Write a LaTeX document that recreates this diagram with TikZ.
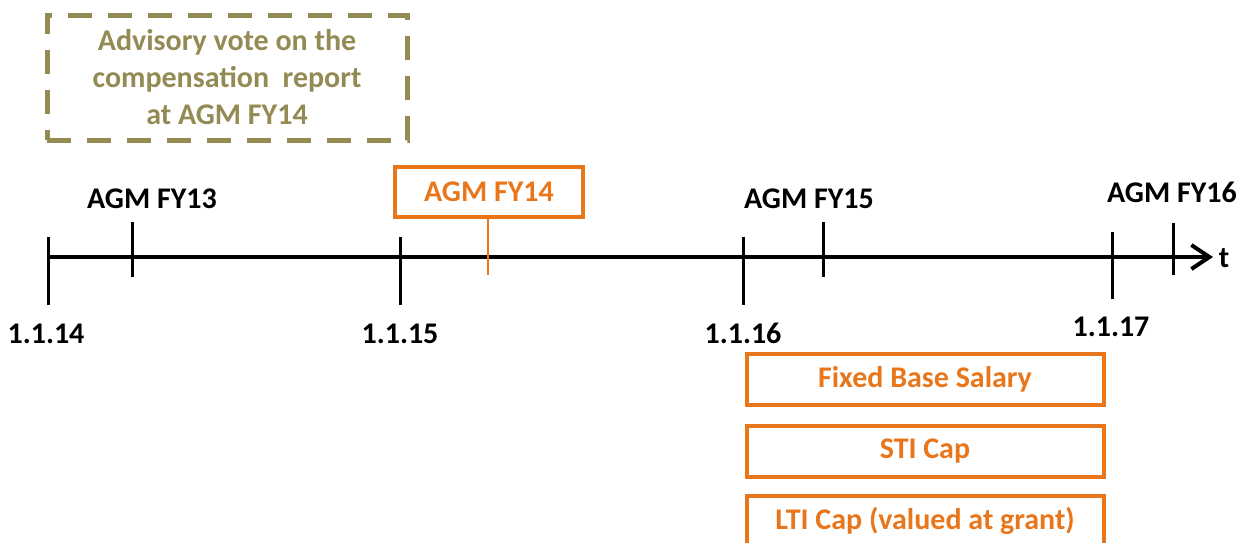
\documentclass[tikz,border=0pt]{standalone}
\usepackage{fontspec}
\setmainfont{Carlito}
\usetikzlibrary{arrows.meta}
\definecolor{tan}{RGB}{148,138,84}
\definecolor{orng}{RGB}{233,118,27}
\begin{document}
\begin{tikzpicture}[x=0.5pt,y=-0.5pt,
  lbl/.style={font=\fontsize{15}{18}\selectfont\bfseries, text=black, inner sep=0pt, anchor=base},
  tick/.style={line width=1.5pt, black},
  obox/.style={draw=orng, line width=2pt, minimum width=178.5pt, minimum height=25.5pt, font=\fontsize{15}{18}\selectfont\bfseries, text=orng, inner sep=0pt}]
\useasboundingbox (0,0) rectangle (1250,542);
% dashed box
\node[draw=tan, line width=2.5pt, dash pattern=on 12pt off 8pt, minimum width=180pt, minimum height=62.5pt, align=center, text=tan, font=\fontsize{15}{18.5}\selectfont\bfseries, inner sep=0pt] (vote) at (227,77.5) {\raisebox{-1pt}{Advisory vote on the}\\\raisebox{-1pt}{compensation\ \ report}\\\raisebox{-1pt}{at AGM FY14}};
% timeline
\coordinate (t0) at (47,257);
\coordinate (tend) at (1213,257);
\draw[line width=2pt, -{Straight Barb[length=9pt,width=12pt,line width=2pt]}] (t0) -- (tend);
\node[lbl] (t) at (1224,267) {t};
% date ticks
\foreach \n/\x/\ya/\yb in {a/48/237/305, b/400/237/305, c/743/237/305, d/1112/232/299}{
  \coordinate (\n top) at (\x,\ya);
  \coordinate (\n bot) at (\x,\yb);
  \draw[tick] (\n top) -- (\n bot);
}
\node[lbl] (d14) at (46,343) {1.1.14};
\node[lbl] (d15) at (400,343) {1.1.15};
\node[lbl] (d16) at (743,343) {1.1.16};
\node[lbl] (d17) at (1111,336) {1.1.17};
% AGM ticks
\foreach \n/\x/\ya/\yb in {e/132/222/277, f/823/222/277, g/1173/223/275}{
  \coordinate (\n top) at (\x,\ya);
  \coordinate (\n bot) at (\x,\yb);
  \draw[tick] (\n top) -- (\n bot);
}
\node[lbl] (fy13) at (152,208) {AGM FY13};
\node[lbl] (fy15) at (809,208) {AGM FY15};
\node[lbl] (fy16) at (1172,202) {AGM FY16};
% AGM FY14 box
\node[obox, minimum width=94pt, minimum height=25pt] (fy14) at (489,192) {AGM FY14};
\coordinate (fy14tick) at (488,275);
\draw[orng, line width=1.2pt] (fy14.south -| fy14tick) -- (fy14tick);
% compensation boxes
\node[obox] (fbs) at (925,379) {Fixed Base Salary};
\node[obox] (sti) at (925,451) {STI Cap};
\node[obox] (lti) at (925,521) {LTI Cap (valued at grant)};
\end{tikzpicture}
\end{document}
